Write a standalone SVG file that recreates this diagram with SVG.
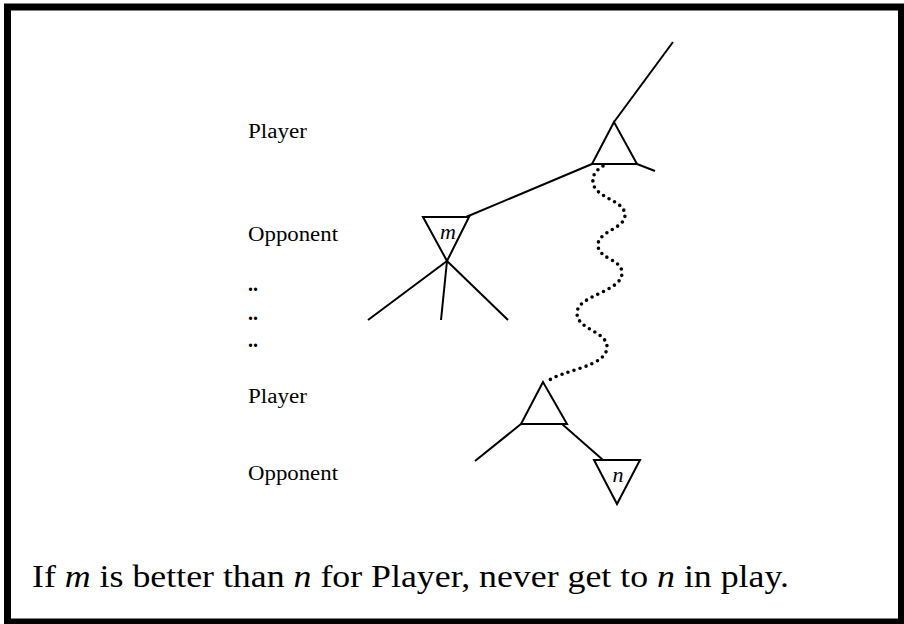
<svg xmlns="http://www.w3.org/2000/svg" width="904" height="624" viewBox="0 0 904 624">
<style>
.ln{fill:none;stroke:#000;stroke-width:2;stroke-linejoin:miter}
.lbl{font-family:"Liberation Serif","Times New Roman",serif;font-size:20px;fill:#000}
.it{font-family:"Liberation Serif","Times New Roman",serif;font-style:italic;font-size:22px;fill:#000}
.cap{font-family:"Liberation Serif","Times New Roman",serif;font-size:31px;fill:#000}
.dots{fill:none;stroke:#000;stroke-width:3.6;stroke-linecap:round;stroke-dasharray:0 6.3}
</style>
<rect x="0" y="0" width="904" height="624" fill="#fff"/>
<rect x="7.5" y="7" width="894" height="615" fill="none" stroke="#000" stroke-width="7"/>
<g id="labels">
<text class="lbl" x="248" y="138" textLength="59" lengthAdjust="spacingAndGlyphs">Player</text>
<text class="lbl" x="248" y="241" textLength="90" lengthAdjust="spacingAndGlyphs">Opponent</text>
<text class="lbl" x="248" y="291" font-weight="bold">..</text>
<text class="lbl" x="248" y="320" font-weight="bold">..</text>
<text class="lbl" x="248" y="347" font-weight="bold">..</text>
<text class="lbl" x="248" y="403" textLength="59" lengthAdjust="spacingAndGlyphs">Player</text>
<text class="lbl" x="248" y="480" textLength="90" lengthAdjust="spacingAndGlyphs">Opponent</text>
</g>
<g id="connectors">
<line class="ln" x1="614" y1="122" x2="673" y2="42"/>
<line class="ln" x1="637" y1="164" x2="655" y2="171"/>
<line class="ln" x1="592" y1="164" x2="466" y2="217"/>
<line class="ln" x1="447" y1="261" x2="368" y2="320"/>
<line class="ln" x1="447" y1="261" x2="441" y2="320"/>
<line class="ln" x1="447" y1="261" x2="508" y2="320"/>
<line class="ln" x1="521" y1="424" x2="475" y2="461"/>
<line class="ln" x1="562" y1="424" x2="603" y2="460"/>
<path class="dots" d="M603,166 C596,170 592,176 593,182 C594,198 625,200 625,215 C625,229 598,231 598,245 C598,259 622,259 622,273 C622,292 577,295 577,313 C577,330 607,331 607,347 C607,367 562,370 548,381"/>
</g>
<g id="player-top">
<polygon class="ln" points="614,122 592,164 637,164"/>
</g>
<g id="opponent-m">
<polygon class="ln" points="423,217 469,217 447,261"/>
<text class="it" x="448" y="239" text-anchor="middle">m</text>
</g>
<g id="player-bottom">
<polygon class="ln" points="543,382 521,424 567,424"/>
</g>
<g id="opponent-n">
<polygon class="ln" points="594,460 640,460 617,504"/>
<text class="it" x="618" y="482" text-anchor="middle">n</text>
</g>
<g id="caption">
<text class="cap" x="32" y="587" textLength="757" lengthAdjust="spacingAndGlyphs">If <tspan font-style="italic">m</tspan> is better than <tspan font-style="italic">n</tspan> for Player, never get to <tspan font-style="italic">n</tspan> in play.</text>
</g>
</svg>
